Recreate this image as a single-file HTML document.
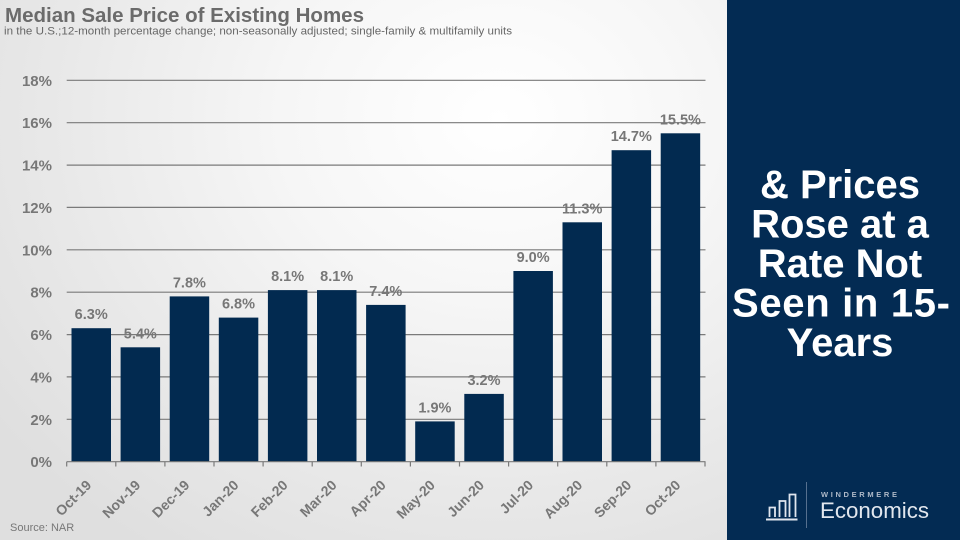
<!DOCTYPE html>
<html>
<head>
<meta charset="utf-8">
<style>
  html,body{margin:0;padding:0;}
  body{width:960px;height:540px;overflow:hidden;position:relative;
    background:radial-gradient(ellipse 620px 520px at 52% 22%, #ffffff 0%, #f6f6f6 35%, #e9e9e9 70%, #dfdfdf 100%);
    font-family:"Liberation Sans",Arial,sans-serif;}
  svg{position:absolute;left:0;top:0;}
</style>
</head>
<body>
<svg width="960" height="540" viewBox="0 0 960 540" xmlns="http://www.w3.org/2000/svg" font-family="Liberation Sans, Arial, sans-serif">
  <!-- Title -->
  <text x="5" y="22" font-size="20.5" font-weight="bold" fill="#6b6b6b" textLength="359" lengthAdjust="spacingAndGlyphs">Median Sale Price of Existing Homes</text>
  <text x="4" y="34.5" font-size="11" fill="#666" textLength="508" lengthAdjust="spacingAndGlyphs">in the U.S.;12-month percentage change; non-seasonally adjusted; single-family &amp; multifamily units</text>

  <!-- gridlines -->
  <g stroke="#7a7a7a" stroke-width="1.2">
    <line x1="66.7" x2="705.5" y1="80.3" y2="80.3"/>
    <line x1="66.7" x2="705.5" y1="122.7" y2="122.7"/>
    <line x1="66.7" x2="705.5" y1="165.1" y2="165.1"/>
    <line x1="66.7" x2="705.5" y1="207.4" y2="207.4"/>
    <line x1="66.7" x2="705.5" y1="249.8" y2="249.8"/>
    <line x1="66.7" x2="705.5" y1="292.2" y2="292.2"/>
    <line x1="66.7" x2="705.5" y1="334.6" y2="334.6"/>
    <line x1="66.7" x2="705.5" y1="376.9" y2="376.9"/>
    <line x1="66.7" x2="705.5" y1="419.3" y2="419.3"/>
  </g>

  <!-- y labels -->
  <g font-size="15" font-weight="bold" fill="#777" text-anchor="end">
    <text x="52" y="85.8">18%</text>
    <text x="52" y="128.2">16%</text>
    <text x="52" y="170.6">14%</text>
    <text x="52" y="212.9">12%</text>
    <text x="52" y="255.3">10%</text>
    <text x="52" y="297.7">8%</text>
    <text x="52" y="340.1">6%</text>
    <text x="52" y="382.4">4%</text>
    <text x="52" y="424.8">2%</text>
    <text x="52" y="467.2">0%</text>
  </g>

  <!-- bars -->
  <g fill="#022a50">
    <rect x="71.5" y="328.2" width="39.5" height="133.5"/>
    <rect x="120.6" y="347.3" width="39.5" height="114.4"/>
    <rect x="169.7" y="296.4" width="39.5" height="165.3"/>
    <rect x="218.8" y="317.6" width="39.5" height="144.1"/>
    <rect x="267.9" y="290.1" width="39.5" height="171.6"/>
    <rect x="317.0" y="290.1" width="39.5" height="171.6"/>
    <rect x="366.1" y="304.9" width="39.5" height="156.8"/>
    <rect x="415.2" y="421.4" width="39.5" height="40.3"/>
    <rect x="464.3" y="393.9" width="39.5" height="67.8"/>
    <rect x="513.4" y="271.0" width="39.5" height="190.7"/>
    <rect x="562.5" y="222.3" width="39.5" height="239.4"/>
    <rect x="611.6" y="150.2" width="39.5" height="311.5"/>
    <rect x="660.7" y="133.3" width="39.5" height="328.4"/>
  </g>

  <!-- axis -->
  <g stroke="#7a7a7a" stroke-width="1.2">
    <line x1="66.7" x2="705.5" y1="461.7" y2="461.7"/>
    <line x1="66.7" x2="66.7" y1="461.7" y2="466.5"/>
    <line x1="115.8" x2="115.8" y1="461.7" y2="466.5"/>
    <line x1="164.9" x2="164.9" y1="461.7" y2="466.5"/>
    <line x1="214.0" x2="214.0" y1="461.7" y2="466.5"/>
    <line x1="263.1" x2="263.1" y1="461.7" y2="466.5"/>
    <line x1="312.2" x2="312.2" y1="461.7" y2="466.5"/>
    <line x1="361.3" x2="361.3" y1="461.7" y2="466.5"/>
    <line x1="410.4" x2="410.4" y1="461.7" y2="466.5"/>
    <line x1="459.5" x2="459.5" y1="461.7" y2="466.5"/>
    <line x1="508.6" x2="508.6" y1="461.7" y2="466.5"/>
    <line x1="557.7" x2="557.7" y1="461.7" y2="466.5"/>
    <line x1="606.8" x2="606.8" y1="461.7" y2="466.5"/>
    <line x1="655.9" x2="655.9" y1="461.7" y2="466.5"/>
    <line x1="705.0" x2="705.0" y1="461.7" y2="466.5"/>
  </g>

  <!-- value labels -->
  <g font-size="14.5" font-weight="bold" fill="#777" text-anchor="middle">
    <text x="91.2" y="319.2">6.3%</text>
    <text x="140.3" y="338.3">5.4%</text>
    <text x="189.4" y="287.4">7.8%</text>
    <text x="238.5" y="308.6">6.8%</text>
    <text x="287.6" y="281.1">8.1%</text>
    <text x="336.7" y="281.1">8.1%</text>
    <text x="385.8" y="295.9">7.4%</text>
    <text x="434.9" y="412.4">1.9%</text>
    <text x="484.0" y="384.9">3.2%</text>
    <text x="533.1" y="262.0">9.0%</text>
    <text x="582.2" y="213.3">11.3%</text>
    <text x="631.3" y="141.2">14.7%</text>
    <text x="680.4" y="124.3">15.5%</text>
  </g>

  <!-- x labels -->
  <g font-size="14" font-weight="bold" fill="#777" text-anchor="end">
    <text transform="translate(92.2,486) rotate(-45)">Oct-19</text>
    <text transform="translate(141.3,486) rotate(-45)">Nov-19</text>
    <text transform="translate(190.4,486) rotate(-45)">Dec-19</text>
    <text transform="translate(239.5,486) rotate(-45)">Jan-20</text>
    <text transform="translate(288.6,486) rotate(-45)">Feb-20</text>
    <text transform="translate(337.7,486) rotate(-45)">Mar-20</text>
    <text transform="translate(386.8,486) rotate(-45)">Apr-20</text>
    <text transform="translate(435.9,486) rotate(-45)">May-20</text>
    <text transform="translate(485.0,486) rotate(-45)">Jun-20</text>
    <text transform="translate(534.1,486) rotate(-45)">Jul-20</text>
    <text transform="translate(583.2,486) rotate(-45)">Aug-20</text>
    <text transform="translate(632.3,486) rotate(-45)">Sep-20</text>
    <text transform="translate(681.4,486) rotate(-45)">Oct-20</text>
  </g>

  <text x="10" y="531" font-size="11" fill="#777">Source: NAR</text>

  <!-- right panel -->
  <rect x="727" y="0" width="233" height="540" fill="#032b53"/>
  <g font-size="40" font-weight="bold" fill="#ffffff" text-anchor="middle">
    <text x="840" y="198">&amp; Prices</text>
    <text x="840" y="237.5">Rose at a</text>
    <text x="840" y="277">Rate Not</text>
    <text x="841" y="316.5" textLength="218" lengthAdjust="spacing">Seen in 15-</text>
    <text x="840" y="356">Years</text>
  </g>

  <!-- logo -->
  <g fill="none" stroke="#dfe5ee" stroke-width="1.8">
    <path d="M769.5 517 V507.5 H775 V517"/>
    <path d="M779.5 517 V501 H785.5 V517"/>
    <path d="M789.5 517 V494.5 H795.5 V517"/>
  </g>
  <line x1="766" x2="797.5" y1="519.5" y2="519.5" stroke="#dfe5ee" stroke-width="2"/>
  <line x1="806.5" x2="806.5" y1="482" y2="528" stroke="#56708f" stroke-width="1"/>
  <text x="821" y="497" font-size="7.5" font-weight="bold" fill="#aeb9c8" textLength="76" lengthAdjust="spacing">WINDERMERE</text>
  <text x="820" y="518" font-size="22" fill="#e2e7ee" textLength="109" lengthAdjust="spacingAndGlyphs">Economics</text>
</svg>
</body>
</html>
